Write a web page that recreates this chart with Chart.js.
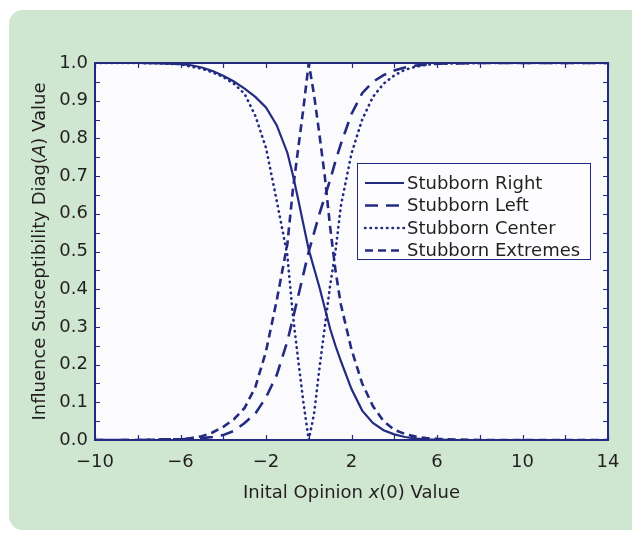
<!DOCTYPE html>
<html><head><meta charset="utf-8">
<script src="https://cdn.jsdelivr.net/npm/chart.js@4.4.0/dist/chart.umd.min.js"></script>
<style>
html,body{margin:0;padding:0;background:#fff;overflow:hidden;width:632px;height:539px}
#panel{position:absolute;left:9px;top:10px;width:660px;height:520px;background:#cfe6d1;border-radius:14px}
#wrap{position:absolute;left:0;top:0;width:632px;height:539px}
</style></head><body>
<div id="panel"></div>
<div id="wrap"><canvas id="c" width="632" height="539"></canvas></div>
<script>
// ---- data ----
const xValues = [-10,-9,-8,-7,-6,-5.5,-5,-4.5,-4,-3.5,-3,-2.5,-2,-1.5,-1,-0.75,-0.5,-0.25,0,0.25,0.5,0.75,1,1.25,1.5,2,2.5,3,3.5,4,4.5,5,5.5,6,7,8,9,10,11,12,13,14];
const stubbornRight = [1,1,1,0.999,0.997,0.994,0.988,0.979,0.966,0.951,0.932,0.91,0.882,0.835,0.762,0.705,0.64,0.572,0.505,0.455,0.405,0.35,0.295,0.25,0.21,0.135,0.078,0.045,0.026,0.015,0.008,0.004,0.002,0.001,0,0,0,0,0,0,0,0];
const stubbornLeft = [0,0,0,0.001,0.002,0.003,0.005,0.008,0.013,0.024,0.045,0.07,0.113,0.172,0.262,0.32,0.38,0.44,0.5,0.55,0.6,0.645,0.69,0.74,0.785,0.865,0.92,0.95,0.968,0.98,0.988,0.993,0.996,0.998,0.999,1,1,1,1,1,1,1];
const stubbornCenter = [1,1,1,0.999,0.997,0.99,0.985,0.975,0.963,0.945,0.918,0.86,0.775,0.635,0.49,0.335,0.215,0.1,0,0.07,0.19,0.3,0.41,0.5,0.62,0.76,0.85,0.91,0.945,0.967,0.982,0.99,0.995,0.998,0.999,1,1,1,1,1,1,1];
const stubbornExtremes = [0,0,0,0.001,0.002,0.005,0.01,0.02,0.035,0.055,0.085,0.14,0.235,0.37,0.52,0.66,0.77,0.88,1,0.915,0.81,0.7,0.565,0.45,0.36,0.24,0.15,0.09,0.05,0.027,0.016,0.009,0.005,0.003,0.001,0,0,0,0,0,0,0];
const seriesNames = ['Stubborn Right','Stubborn Left','Stubborn Center','Stubborn Extremes'];
const xLabelValues = [-10,-6,-2,2,6,10,14];

const NAVY = '#232b80';
const TEXT = '#231f20';
const FONT = '"DejaVu Sans", sans-serif';

function pts(ys){ return xValues.map((x,i)=>({x:x,y:ys[i]})); }
const styles = [
  {borderDash:[], borderWidth:2.2, borderCapStyle:'butt'},
  {borderDash:[13,8], borderWidth:2.6, borderCapStyle:'butt'},
  {borderDash:[0.5,5], borderWidth:2.6, borderCapStyle:'round'},
  {borderDash:[8,5], borderWidth:2.6, borderCapStyle:'butt'}
];
const series = [stubbornRight, stubbornLeft, stubbornCenter, stubbornExtremes];
const datasets = series.map((s,i)=>Object.assign({
  label: seriesNames[i], data: pts(s), borderColor: NAVY, backgroundColor: NAVY,
  pointRadius:0, tension:0, fill:false
}, styles[i]));

const bgPlugin = {
  id:'bg',
  beforeDraw(chart){
    const a = chart.chartArea, ctx = chart.ctx;
    ctx.save(); ctx.fillStyle = '#fbfbfe';
    ctx.fillRect(a.left, a.top, a.right-a.left, a.bottom-a.top); ctx.restore();
  }
};
const framePlugin = {
  id:'frame',
  afterDatasetsDraw(chart){
    const a = chart.chartArea, ctx = chart.ctx, xs = chart.scales.x, ys = chart.scales.y;
    ctx.save();
    ctx.strokeStyle = NAVY; ctx.lineWidth = 1.2; ctx.setLineDash([]);
    const L = 5;
    xs.ticks.forEach(t=>{
      const px = Math.round(xs.getPixelForValue(t.value))+0.5;
      ctx.beginPath(); ctx.moveTo(px,a.bottom); ctx.lineTo(px,a.bottom-L);
      ctx.moveTo(px,a.top); ctx.lineTo(px,a.top+L); ctx.stroke();
    });
    ys.ticks.forEach(t=>{
      const py = Math.round(ys.getPixelForValue(t.value))+0.5;
      ctx.beginPath(); ctx.moveTo(a.left,py); ctx.lineTo(a.left+L,py);
      ctx.moveTo(a.right,py); ctx.lineTo(a.right-L,py); ctx.stroke();
    });
    ctx.lineWidth = 2;
    ctx.strokeRect(a.left, a.top, a.right-a.left, a.bottom-a.top);
    ctx.restore();
  }
};
function drawParts(ctx, parts, cx, cy){
  let total = 0;
  parts.forEach(p=>{ ctx.font = (p.i?'italic ':'') + '18px ' + FONT; p.w = ctx.measureText(p.t).width; total += p.w; });
  let x = cx - total/2;
  parts.forEach(p=>{ ctx.font = (p.i?'italic ':'') + '18px ' + FONT; ctx.fillText(p.t, x, cy); x += p.w; });
}
const titlePlugin = {
  id:'titles',
  afterDraw(chart){
    const a = chart.chartArea, ctx = chart.ctx;
    ctx.save(); ctx.fillStyle = TEXT; ctx.textBaseline = 'middle'; ctx.textAlign = 'left';
    drawParts(ctx, [{t:'Inital Opinion '},{t:'x',i:true},{t:'(0) Value'}], (a.left+a.right)/2, 493);
    ctx.translate(40, (a.top+a.bottom)/2); ctx.rotate(-Math.PI/2);
    drawParts(ctx, [{t:'Influence Susceptibility Diag('},{t:'A',i:true},{t:') Value'}], 0, 0);
    ctx.restore();
  }
};
const legendPlugin = {
  id:'customLegend',
  afterDraw(chart){
    const ctx = chart.ctx;
    const bx = 357, by = 163, bw = 233, bh = 96;
    ctx.save();
    ctx.fillStyle = '#fdfdff'; ctx.fillRect(bx,by,bw,bh);
    ctx.strokeStyle = NAVY; ctx.lineWidth = 1; ctx.setLineDash([]);
    ctx.strokeRect(bx+0.5,by+0.5,bw,bh);
    chart.data.datasets.forEach((ds,i)=>{
      const y = by + 20 + i*22.5;
      ctx.strokeStyle = ds.borderColor; ctx.lineWidth = ds.borderWidth;
      ctx.lineCap = ds.borderCapStyle; ctx.setLineDash(ds.borderDash);
      ctx.beginPath(); ctx.moveTo(bx+8, y); ctx.lineTo(bx+47, y); ctx.stroke();
      ctx.setLineDash([]);
      ctx.fillStyle = TEXT; ctx.font = '18px ' + FONT; ctx.textBaseline = 'middle';
      ctx.fillText(ds.label, bx+50, y+1);
    });
    ctx.restore();
  }
};

function fmtX(v){ return v<0 ? '\u2212'+Math.abs(v) : String(v); }
new Chart(document.getElementById('c'), {
  type:'line',
  data:{ datasets: datasets },
  options:{
    responsive:false, animation:false, devicePixelRatio:1,
    layout:{ padding:{ top:63, right:24, left:0, bottom:0 } },
    plugins:{ legend:{display:false}, tooltip:{enabled:false} },
    scales:{
      x:{ type:'linear', min:-10, max:14,
        grid:{display:false, drawTicks:false}, border:{display:false},
        ticks:{ stepSize:2, autoSkip:false, maxRotation:0, padding:12, color:TEXT, font:{family:FONT, size:18},
          callback:(v)=> xLabelValues.includes(v) ? fmtX(v) : '' },
        afterFit:(s)=>{ s.height = 99; }
      },
      y:{ min:0, max:1,
        grid:{display:false, drawTicks:false}, border:{display:false},
        ticks:{ stepSize:0.05, autoSkip:false, padding:7, color:TEXT, font:{family:FONT, size:18},
          callback:(v)=>{ const r = Math.round(v*100); return r%10===0 ? (r/100).toFixed(1) : ''; } },
        afterFit:(s)=>{ s.width = 95; }
      }
    }
  },
  plugins:[bgPlugin, framePlugin, titlePlugin, legendPlugin]
});
</script>
</body></html>
